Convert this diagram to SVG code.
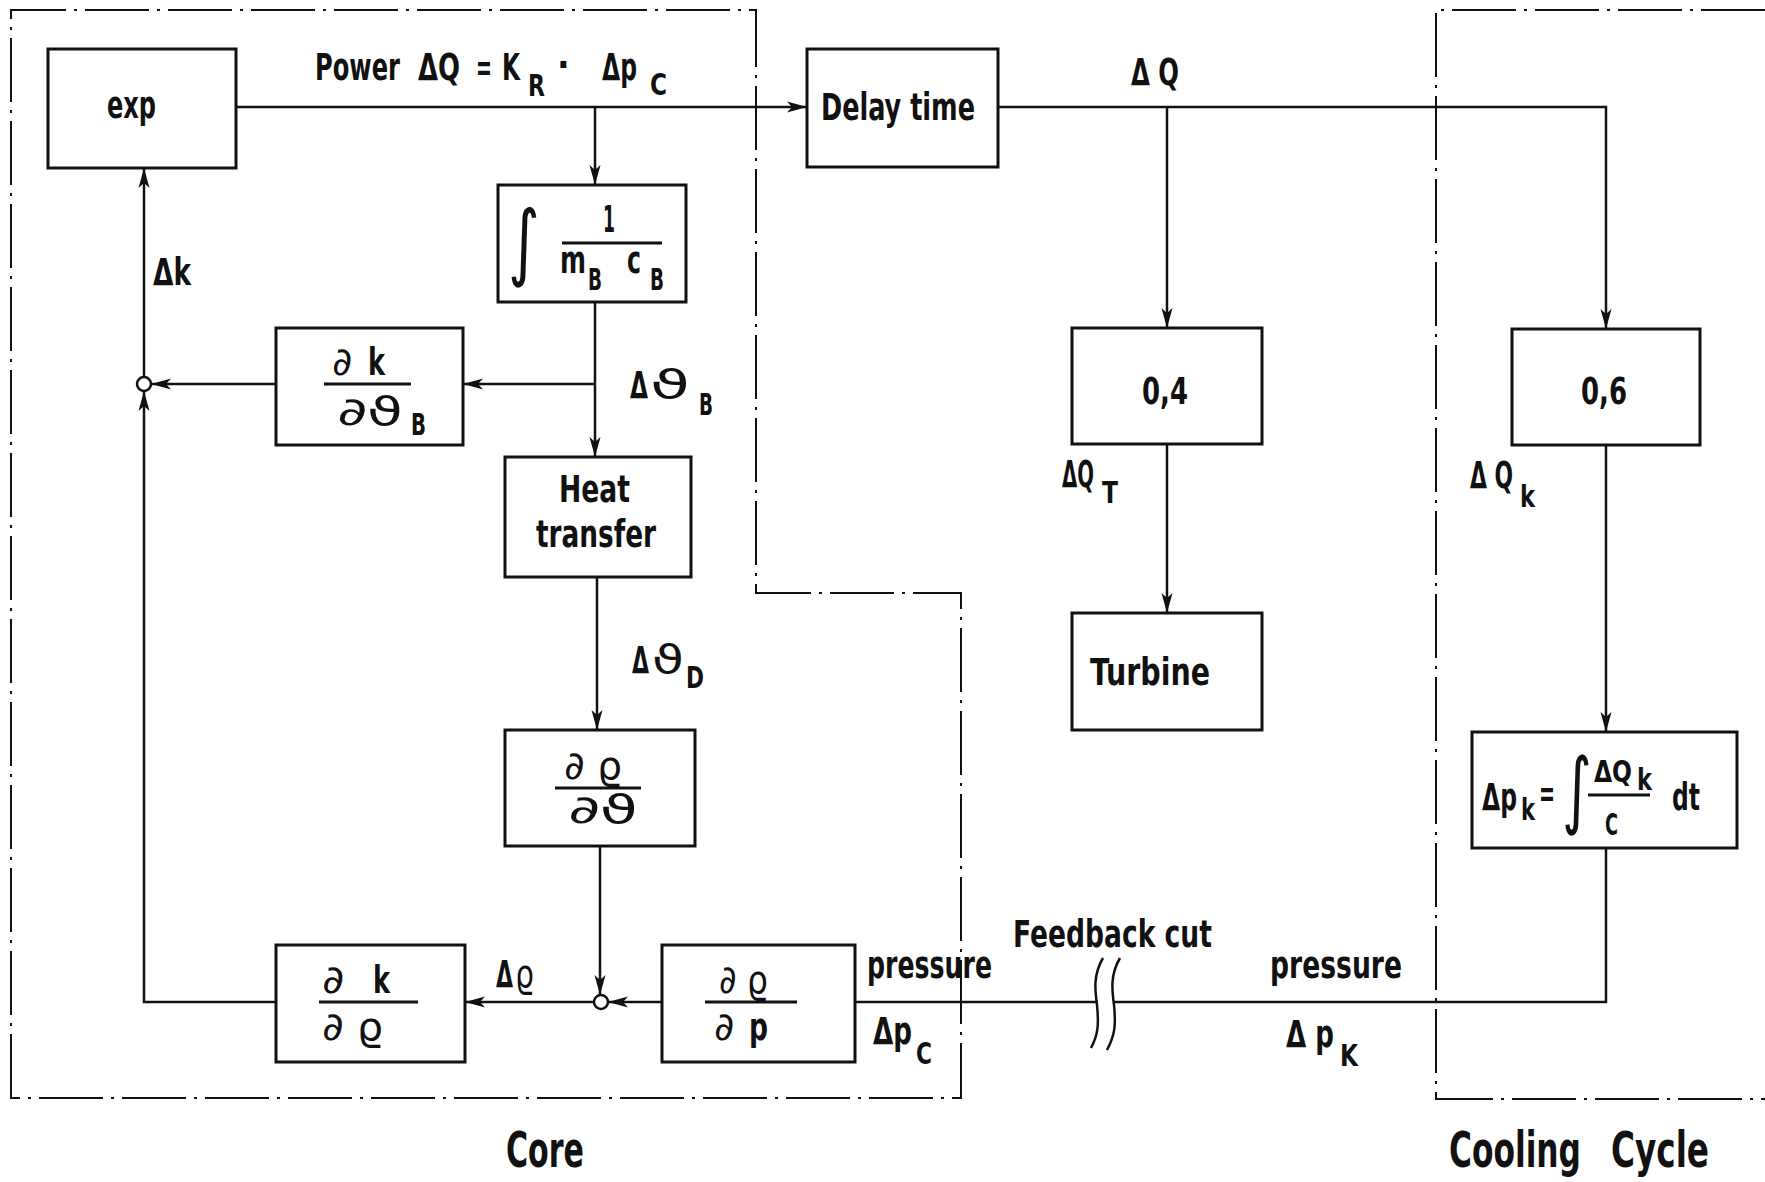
<svg xmlns="http://www.w3.org/2000/svg" width="1765" height="1182" viewBox="0 0 1765 1182">
<style>
  .bg{fill:#ffffff}
  .box{fill:none;stroke:#111;stroke-width:3}
  .ln{fill:none;stroke:#111;stroke-width:2.5}
  .bd{fill:none;stroke:#111;stroke-width:2;stroke-dasharray:64 8 3 8}
  .sj{fill:#fff;stroke:#111;stroke-width:2.5}
  .bar{stroke:#111;stroke-width:3}
  text{font-family:"DejaVu Sans Condensed","DejaVu Sans","Liberation Sans",sans-serif;font-stretch:condensed;font-weight:bold;fill:#111;font-size:37px}
  .sub{font-size:30px}
  .big{font-size:50px}
  .m{font-weight:normal;font-size:39px}
  .int{font-size:84px;font-weight:normal}
</style>
<defs>
  <marker id="ah" markerUnits="userSpaceOnUse" markerWidth="22" markerHeight="12" refX="20" refY="6" orient="auto">
    <path d="M0,0.5 L20,6 L0,11.5 L5,6 Z" fill="#111"/>
  </marker>
</defs>
<rect class="bg" x="0" y="0" width="1765" height="1182"/>

<!-- boundaries -->
<g id="core-boundary">
  <path class="bd" d="M11,1098 V10 H756 V593 H961 V1098 Z"/>
  <text class="big" x="506" y="1167" textLength="78" lengthAdjust="spacingAndGlyphs">Core</text>
</g>
<g id="cooling-boundary">
  <path class="bd" d="M1765,10 H1436 V1099 H1765"/>
  <text class="big" x="1449" y="1167" textLength="132" lengthAdjust="spacingAndGlyphs">Cooling</text>
  <text class="big" x="1611" y="1167" textLength="98" lengthAdjust="spacingAndGlyphs">Cycle</text>
</g>

<!-- connectors -->
<g id="connectors">
  <path class="ln" d="M236,107 H807" marker-end="url(#ah)"/>
  <path class="ln" d="M595,107 V185" marker-end="url(#ah)"/>
  <path class="ln" d="M595,302 V457" marker-end="url(#ah)"/>
  <path class="ln" d="M595,384 H463" marker-end="url(#ah)"/>
  <path class="ln" d="M276,384 H151" marker-end="url(#ah)"/>
  <path class="ln" d="M276,1002 H144 V391" marker-end="url(#ah)"/>
  <path class="ln" d="M144,377 V168" marker-end="url(#ah)"/>
  <path class="ln" d="M597,577 V730" marker-end="url(#ah)"/>
  <path class="ln" d="M600,846 V995" marker-end="url(#ah)"/>
  <path class="ln" d="M662,1002 H608" marker-end="url(#ah)"/>
  <path class="ln" d="M594,1002 H465" marker-end="url(#ah)"/>
  <path class="ln" d="M855,1002 H1098"/>
  <path class="ln" d="M1114,1002 H1606 V848"/>
  <path class="ln" d="M998,107 H1606 V329" marker-end="url(#ah)"/>
  <path class="ln" d="M1167,107 V328" marker-end="url(#ah)"/>
  <path class="ln" d="M1167,444 V613" marker-end="url(#ah)"/>
  <path class="ln" d="M1606,445 V732" marker-end="url(#ah)"/>
  <circle class="sj" cx="144" cy="384" r="7"/>
  <circle class="sj" cx="601" cy="1002" r="7"/>
  <path class="ln" d="M1103,958 C1093,975 1095,990 1097,1005 C1099,1025 1098,1035 1091,1048"/>
  <path class="ln" d="M1120,958 C1110,975 1112,990 1114,1005 C1116,1025 1115,1035 1107,1050"/>
</g>

<!-- labels on connectors -->
<g id="labels">
  <text x="315" y="80" textLength="85" lengthAdjust="spacingAndGlyphs">Power</text>
  <text x="418" y="80" textLength="42" lengthAdjust="spacingAndGlyphs">ΔQ</text>
  <text x="476" y="80" textLength="16" lengthAdjust="spacingAndGlyphs">=</text>
  <text x="502" y="80" textLength="18" lengthAdjust="spacingAndGlyphs">K</text>
  <text class="sub" x="528" y="96" textLength="17" lengthAdjust="spacingAndGlyphs">R</text>
  <text x="557" y="77">·</text>
  <text x="602" y="80" textLength="35" lengthAdjust="spacingAndGlyphs">Δp</text>
  <text class="sub" x="650" y="95" textLength="17" lengthAdjust="spacingAndGlyphs">C</text>
  <text x="153" y="285" textLength="38" lengthAdjust="spacingAndGlyphs">Δk</text>
  <text x="630" y="398" textLength="18" lengthAdjust="spacingAndGlyphs">Δ</text>
  <text class="m" x="650" y="398" textLength="40" lengthAdjust="spacingAndGlyphs">ϑ</text>
  <text class="sub" x="699" y="415" textLength="14" lengthAdjust="spacingAndGlyphs">B</text>
  <text x="632" y="673" textLength="17" lengthAdjust="spacingAndGlyphs">Δ</text>
  <text class="m" x="652" y="673" textLength="32" lengthAdjust="spacingAndGlyphs">ϑ</text>
  <text class="sub" x="686" y="688" textLength="18" lengthAdjust="spacingAndGlyphs">D</text>
  <text x="496" y="987" textLength="17" lengthAdjust="spacingAndGlyphs">Δ</text>
  <text class="m" x="515" y="987" textLength="19" lengthAdjust="spacingAndGlyphs">ϱ</text>
  <text x="1131" y="85" textLength="48" lengthAdjust="spacingAndGlyphs">Δ Q</text>
  <text x="1062" y="487" font-size="32" textLength="32" lengthAdjust="spacingAndGlyphs">ΔQ</text>
  <text class="sub" x="1102" y="503" textLength="16" lengthAdjust="spacingAndGlyphs">T</text>
  <text x="1470" y="488" textLength="43" lengthAdjust="spacingAndGlyphs">Δ Q</text>
  <text class="sub" x="1520" y="507" textLength="15" lengthAdjust="spacingAndGlyphs">k</text>
  <text x="867" y="978" textLength="125" lengthAdjust="spacingAndGlyphs">pressure</text>
  <text x="873" y="1044" textLength="39" lengthAdjust="spacingAndGlyphs">Δp</text>
  <text class="sub" x="916" y="1064" textLength="16" lengthAdjust="spacingAndGlyphs">C</text>
  <text x="1013" y="947" textLength="199" lengthAdjust="spacingAndGlyphs">Feedback cut</text>
  <text x="1270" y="978" textLength="132" lengthAdjust="spacingAndGlyphs">pressure</text>
  <text x="1286" y="1047" textLength="48" lengthAdjust="spacingAndGlyphs">Δ p</text>
  <text class="sub" x="1340" y="1066" textLength="18" lengthAdjust="spacingAndGlyphs">K</text>
</g>

<!-- nodes -->
<g id="n-exp">
  <rect class="box" x="48" y="49" width="188" height="119"/>
  <text x="107" y="118" textLength="49" lengthAdjust="spacingAndGlyphs">exp</text>
</g>
<g id="n-integral">
  <rect class="box" x="498" y="185" width="188" height="117"/>
  <text class="int" transform="translate(508,270) scale(0.8,1)">∫</text>
  <text x="603" y="232" textLength="12" lengthAdjust="spacingAndGlyphs">1</text>
  <line class="bar" x1="562" y1="243" x2="662" y2="243"/>
  <text x="560" y="273" textLength="26" lengthAdjust="spacingAndGlyphs">m</text>
  <text class="sub" x="588" y="290" textLength="14" lengthAdjust="spacingAndGlyphs">B</text>
  <text x="627" y="273" textLength="14" lengthAdjust="spacingAndGlyphs">c</text>
  <text class="sub" x="650" y="290" textLength="14" lengthAdjust="spacingAndGlyphs">B</text>
</g>
<g id="n-dk-dthetaB">
  <rect class="box" x="276" y="328" width="187" height="117"/>
  <text class="m" x="332" y="375" textLength="20" lengthAdjust="spacingAndGlyphs">∂</text>
  <text x="368" y="375" textLength="17" lengthAdjust="spacingAndGlyphs">k</text>
  <line class="bar" x1="324" y1="384" x2="411" y2="384"/>
  <text class="m" x="337" y="425" textLength="66" lengthAdjust="spacingAndGlyphs">∂ϑ</text>
  <text class="sub" x="411" y="435" textLength="15" lengthAdjust="spacingAndGlyphs">B</text>
</g>
<g id="n-heat">
  <rect class="box" x="505" y="457" width="186" height="120"/>
  <text x="559" y="502" textLength="71" lengthAdjust="spacingAndGlyphs">Heat</text>
  <text x="536" y="547" textLength="120" lengthAdjust="spacingAndGlyphs">transfer</text>
</g>
<g id="n-drho-dtheta">
  <rect class="box" x="505" y="730" width="190" height="116"/>
  <text class="m" x="564" y="779" textLength="58" lengthAdjust="spacingAndGlyphs">∂ ϱ</text>
  <line class="bar" x1="555" y1="788" x2="641" y2="788"/>
  <text class="m" x="568" y="823" textLength="70" lengthAdjust="spacingAndGlyphs">∂ϑ</text>
</g>
<g id="n-dk-drho">
  <rect class="box" x="276" y="945" width="189" height="117"/>
  <text class="m" x="322" y="993" textLength="22" lengthAdjust="spacingAndGlyphs">∂</text>
  <text x="373" y="993" textLength="17" lengthAdjust="spacingAndGlyphs">k</text>
  <line class="bar" x1="319" y1="1002" x2="418" y2="1002"/>
  <text class="m" x="322" y="1040" textLength="61" lengthAdjust="spacingAndGlyphs">∂ ϱ</text>
</g>
<g id="n-drho-dp">
  <rect class="box" x="662" y="945" width="193" height="117"/>
  <text class="m" x="719" y="993" textLength="49" lengthAdjust="spacingAndGlyphs">∂ ϱ</text>
  <line class="bar" x1="705" y1="1002" x2="797" y2="1002"/>
  <text class="m" x="714" y="1040" textLength="20" lengthAdjust="spacingAndGlyphs">∂</text>
  <text x="749" y="1040" textLength="19" lengthAdjust="spacingAndGlyphs">p</text>
</g>
<g id="n-delay">
  <rect class="box" x="807" y="49" width="191" height="118"/>
  <text x="821" y="120" textLength="154" lengthAdjust="spacingAndGlyphs">Delay time</text>
</g>
<g id="n-04">
  <rect class="box" x="1072" y="328" width="190" height="116"/>
  <text x="1142" y="404" textLength="46" lengthAdjust="spacingAndGlyphs">0,4</text>
</g>
<g id="n-turbine">
  <rect class="box" x="1072" y="613" width="190" height="117"/>
  <text x="1090" y="685" textLength="120" lengthAdjust="spacingAndGlyphs">Turbine</text>
</g>
<g id="n-06">
  <rect class="box" x="1512" y="329" width="188" height="116"/>
  <text x="1581" y="404" textLength="46" lengthAdjust="spacingAndGlyphs">0,6</text>
</g>
<g id="n-dpk">
  <rect class="box" x="1472" y="732" width="265" height="116"/>
  <text x="1482" y="810" textLength="35" lengthAdjust="spacingAndGlyphs">Δp</text>
  <text class="sub" x="1521" y="820" textLength="14" lengthAdjust="spacingAndGlyphs">k</text>
  <text x="1539" y="806" textLength="16" lengthAdjust="spacingAndGlyphs">=</text>
  <text class="int" transform="translate(1562,818) scale(0.75,1)">∫</text>
  <text class="sub" x="1594" y="782" textLength="38" lengthAdjust="spacingAndGlyphs">ΔQ</text>
  <text class="sub" x="1637" y="790" textLength="15" lengthAdjust="spacingAndGlyphs">k</text>
  <line class="bar" x1="1588" y1="795" x2="1650" y2="795"/>
  <text class="sub" x="1605" y="835" textLength="13" lengthAdjust="spacingAndGlyphs">C</text>
  <text x="1672" y="810" textLength="28" lengthAdjust="spacingAndGlyphs">dt</text>
</g>
</svg>
